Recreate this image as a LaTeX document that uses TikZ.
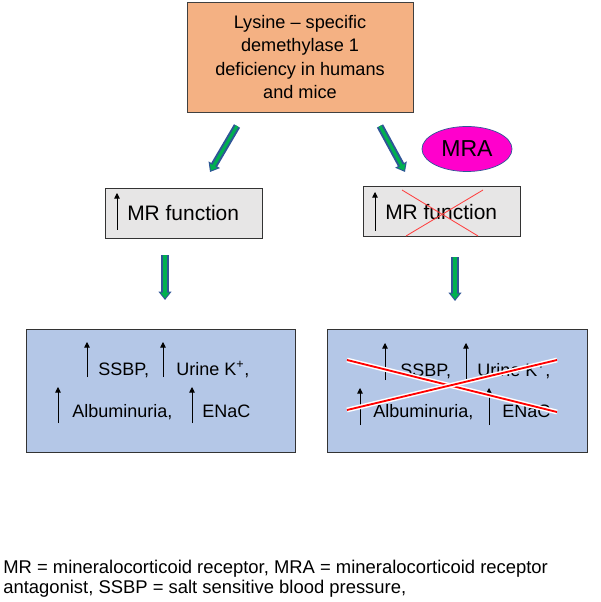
\documentclass[tikz,border=0pt]{standalone}
\usepackage{fontspec}
\setmainfont{Liberation Sans}
\usetikzlibrary{arrows.meta,shapes.geometric}
\definecolor{peach}{HTML}{F4B183}
\definecolor{boxgray}{HTML}{E7E6E6}
\definecolor{boxblue}{HTML}{B4C7E7}
\definecolor{arrowgreen}{HTML}{00B050}
\definecolor{arrowblue}{HTML}{2F5597}
\definecolor{mramagenta}{HTML}{FF00CC}

\begin{document}
\begin{tikzpicture}[x=0.025cm, y=-0.025cm,
  topbox/.style={draw=black!75, line width=0.6pt, fill=peach, minimum width=5.65cm, minimum height=2.75cm, align=center, inner sep=0pt, font=\fontsize{12.9}{16.7}\selectfont},
  mrbox/.style={draw=black!80, line width=0.6pt, fill=boxgray, minimum width=3.925cm, minimum height=1.25cm, inner sep=0pt},
  outbox/.style={draw=black!80, line width=0.6pt, fill=boxblue, minimum height=3.075cm, inner sep=0pt},
  mra/.style={ellipse, draw=arrowblue, line width=0.5pt, fill=mramagenta, minimum width=2.25cm, minimum height=1.125cm, inner sep=0pt, font=\fontsize{16.4}{18}\selectfont},
  mrtext/.style={anchor=base west, inner sep=0pt, font=\fontsize{14.9}{17}\selectfont},
  outtext/.style={anchor=base west, inner sep=0pt, font=\fontsize{12.8}{15}\selectfont},
  note/.style={anchor=base west, inner sep=0pt, font=\fontsize{13.1}{15}\selectfont},
  bigarrow/.style={preaction={draw=arrowblue, line width=5pt, shorten >=0pt, -{Triangle[length=6pt,width=9pt]}}, draw=arrowgreen, line width=2.2pt, shorten >=1.2pt, -{Triangle[length=4pt,width=6pt]}},
  uparrow/.style={draw=black, line width=0.6pt, -{Triangle[length=4pt,width=4pt]}},
  thincross/.style={draw=red!75!white, line width=0.6pt},
  bigcross/.style={preaction={draw=white, line width=3.4pt}, draw=red, line width=1.3pt}]
\useasboundingbox (0,0) rectangle (600,602);

\node[topbox] (lsd) at (300,57) {Lysine – specific\\demethylase 1\\deficiency in humans\\and mice};
\node[mra] (mra) at (467,149) {MRA};
\node[mrbox] (lmr) at (183.5,213) {};
\node[mrbox] (rmr) at (441.5,211) {};
\node[outbox, minimum width=6.725cm] (lout) at (160.5,390.5) {};
\node[outbox, minimum width=6.5cm] (rout) at (457,390.5) {};

\coordinate (la) at (237,126);
\coordinate (lb) at (210,172);
\coordinate (ra) at (380,126);
\coordinate (rb) at (405,172);
\coordinate (lc) at (165,255);
\coordinate (ld) at (165,300);
\coordinate (rc) at (455,257);
\coordinate (rd) at (455,301);
\draw[bigarrow] (la) -- (lb);
\draw[bigarrow] (ra) -- (rb);
\draw[bigarrow] (lc) -- (ld);
\draw[bigarrow] (rc) -- (rd);

\node[mrtext] (lmrt) at (127,221) {MR function};
\node[mrtext] (rmrt) at (385,220) {MR function};
\draw[uparrow] (117,230) -- (117,193);
\draw[uparrow] (375,231) -- (375,192);
\draw[thincross] (402,190) -- (478,236);
\draw[thincross] (406,236) -- (483,190);

\node[outtext] (lssbp) at (98,375) {SSBP,};
\node[outtext] (lurine) at (176,375) {Urine K\textsuperscript{+},};
\node[outtext] (lalb) at (72,417) {Albuminuria,};
\node[outtext] (lenac) at (202,417) {ENaC};
\draw[uparrow] (87,377) -- (87,342);
\draw[uparrow] (163,377) -- (163,342);
\draw[uparrow] (58,423) -- (58,387);
\draw[uparrow] (192,423) -- (192,387);

\node[outtext] (rssbp) at (400,376) {SSBP,};
\node[outtext] (rurine) at (477,376) {Urine K\textsuperscript{+},};
\node[outtext] (ralb) at (373,417) {Albuminuria,};
\node[outtext] (renac) at (502,417) {ENaC};
\draw[uparrow] (385,380) -- (385,343);
\draw[uparrow] (466,380) -- (466,343);
\draw[uparrow] (360,425) -- (360,388);
\draw[uparrow] (489,425) -- (489,388);
\draw[bigcross] (347,360) -- (557,412);
\draw[bigcross] (347,410) -- (557,360);

\node[note] (note1) at (3,573) {MR = mineralocorticoid receptor, MRA = mineralocorticoid receptor};
\node[note] (note2) at (3,593) {antagonist, SSBP = salt sensitive blood pressure,};
\end{tikzpicture}
\end{document}
